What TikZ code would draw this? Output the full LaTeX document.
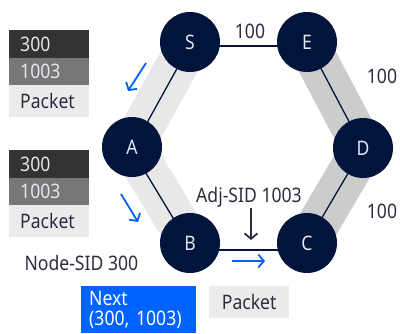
\documentclass[tikz,border=0pt]{standalone}
\usepackage{fontspec}
\setmainfont[FakeStretch=0.88]{Noto Sans}
\usetikzlibrary{arrows.meta,backgrounds}
\definecolor{navy}{HTML}{00143C}
\definecolor{hubtext}{HTML}{E4E6EE}
\definecolor{ink}{HTML}{2B2E40}
\definecolor{flow}{HTML}{0062FF}
\definecolor{dark}{HTML}{333333}
\definecolor{mid}{HTML}{777777}
\definecolor{pale}{HTML}{EBEBEB}
\definecolor{bandA}{HTML}{E8E8E8}
\definecolor{bandB}{HTML}{CCCCCC}
\tikzset{
  hub/.style={circle, fill=navy, minimum size=60pt, inner sep=0pt, text=hubtext},
  link/.style={draw=navy, line width=1.3pt},
  band/.style={line width=42pt, line cap=butt, line join=round},
  row/.style={anchor=north west, minimum width=80pt, text width=58pt, inner xsep=11pt,
              inner ysep=0pt, align=left},
  label/.style={text=ink, anchor=base},
  move/.style={draw=flow, line width=1.8pt, -{Straight Barb[length=5.5pt,width=13pt]}},
  hint/.style={draw=ink, line width=1.8pt, -{Straight Barb[length=5.5pt,width=13pt]}},
}
\begin{document}
\begin{tikzpicture}[x=1pt, y=-1pt, font=\fontsize{20}{22}\selectfont]
\useasboundingbox (0,0) rectangle (400,333);

% routers
\node[hub] (S) at (190,42)  {S};
\node[hub] (E) at (307,42)  {E};
\node[hub] (A) at (132,147) {A};
\node[hub] (D) at (363,148) {D};
\node[hub] (B) at (190,243) {B};
\node[hub] (C) at (307,243) {C};

% highlighted paths and links behind the routers
\begin{scope}[on background layer]
  \draw[band, draw=bandA] (S.center) -- (A.center) -- (B.center);
  \draw[band, draw=bandB] (E.center) -- (D.center) -- (C.center);
  \draw[link] ([yshift=-4pt]S.center) -- ([yshift=-4pt]E.center);
  \draw[link] ([yshift=-3pt]S.center) -- ([yshift=-3pt]A.center);
  \draw[link] ([yshift=-3pt]A.center) -- ([yshift=-3pt]B.center);
  \draw[link] ([yshift=-7pt]B.center) -- ([yshift=-7pt]C.center);
  \draw[link] (E.center) -- (D.center);
  \draw[link] (D.center) -- (C.center);
\end{scope}

% link metrics
\node[label] (m1) at (250,38)  {100};
\node[label] (m2) at (382,83)  {100};
\node[label] (m3) at (382,218) {100};

% label stacks
\node[row, fill=dark, minimum height=28pt, text=hubtext] (k1) at (9,30)  {300};
\node[row, fill=mid,  minimum height=27pt, text=hubtext] (k2) at (9,58)  {1003};
\node[row, fill=pale, minimum height=32pt, text=ink]     (k3) at (9,85)  {Packet};
\node[row, fill=dark, minimum height=28pt, text=hubtext] (k4) at (9,150) {300};
\node[row, fill=mid,  minimum height=27pt, text=hubtext] (k5) at (9,178) {1003};
\node[row, fill=pale, minimum height=32pt, text=ink]     (k6) at (9,205) {Packet};

\node[label, anchor=base west] (nsid) at (21,270) {Node-SID 300};
\node[label] (asid) at (249,202) {Adj-SID 1003};

% next hop and forwarded packet
\node[anchor=north west, fill=flow, text=white, minimum width=115pt, minimum height=47pt,
      text width=99pt, inner xsep=8pt, inner ysep=1pt, align=left,
      font=\fontsize{20}{20}\selectfont] (nx) at (81,286) {Next\\(300, 1003)};
\node[row, fill=pale, minimum height=32pt, text=ink, align=center] (pk) at (209,286) {Packet};

% forwarding direction
\coordinate (f1a) at (146,63);  \coordinate (f1b) at (128,91);
\coordinate (f2a) at (121,194); \coordinate (f2b) at (138,222);
\coordinate (f3a) at (232,261); \coordinate (f3b) at (265,261);
\coordinate (h1a) at (251,208); \coordinate (h1b) at (251,240);
\draw[move] (f1a) -- (f1b);
\draw[move] (f2a) -- (f2b);
\draw[move] (f3a) -- (f3b);
\draw[hint] (h1a) -- (h1b);
\end{tikzpicture}
\end{document}
